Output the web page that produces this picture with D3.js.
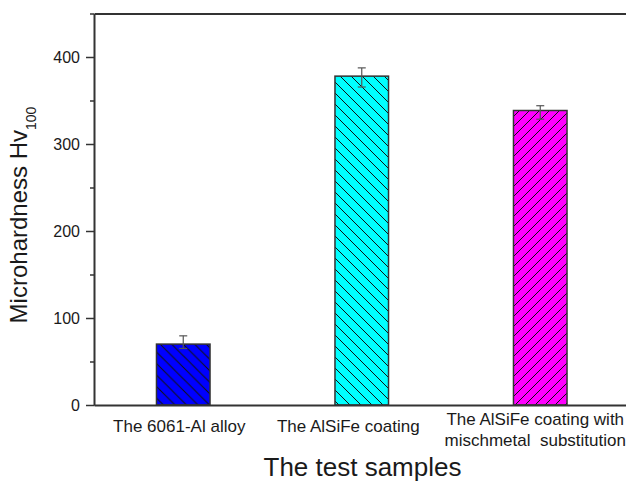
<!DOCTYPE html>
<meta charset="utf-8">
<style>

body {
  margin: 0;
  background-color: white;
  font-family: "Liberation Sans", Arial, sans-serif;
}

.axis path, .axis line {
  stroke: #333;
}

.axis text {
  font: 16px "Liberation Sans", Arial, sans-serif;
  fill: #1a1a1a;
}

</style>
<body>

<div id="chart1"></div>

<script src="https://d3js.org/d3.v7.min.js"></script>
<script>

// data
var samples = ["The 6061-Al alloy", "The AlSiFe coating", "The AlSiFe coating with|mischmetal\u00a0 substitution"];
var hardness = [70, 378, 338.5];
var errUp = [9.5, 9.5, 5.5];
var errDown = [5, 12.5, 10];
var majorTicks = [0, 100, 200, 300, 400];
var minorTicks = [50, 150, 250, 350, 450];

// bar look
var fills = ["#0000ff", "#00ffff", "#ff00ff"];
var hatchDir = ["back", "back", "fwd"];
var hatchGap = [11.5, 11, 10];
// the hand placed labels sit a bit left of the bar centres
var labelNudge = [-4, -13.5, -5];

drawChart();

function drawChart(){
	var width = 626, height = 482;

	var svg = d3.select("#chart1").append("svg")
		.attr("width", width)
		.attr("height", height)
		.style("display", "block");

	var x = d3.scaleBand()
		.domain(samples)
		.range([94, 629.5])
		.paddingInner(0.7)
		.paddingOuter(0.35);

	var y = d3.scaleLinear()
		.domain([0, 450])
		.range([405, 13.5]);

	// hatch patterns
	var defs = svg.append("defs");
	samples.forEach(function(s, i){
		var g = hatchGap[i];
		var p = defs.append("pattern")
			.attr("id", "hatch" + i)
			.attr("patternUnits", "userSpaceOnUse")
			.attr("width", g)
			.attr("height", g);
		p.append("rect").attr("width", g).attr("height", g).attr("fill", fills[i]);
		var d = hatchDir[i] == "back"
			? "M0,0L" + g + "," + g + "M" + (-1) + "," + (g - 1) + "L1," + (g + 1) + "M" + (g - 1) + ",-1L" + (g + 1) + ",1"
			: "M0," + g + "L" + g + ",0M-1,1L1,-1M" + (g - 1) + "," + (g + 1) + "L" + (g + 1) + "," + (g - 1);
		p.append("path").attr("d", d)
			.attr("stroke", "#111")
			.attr("stroke-width", 1);
	});

	// bars
	svg.selectAll(".bar")
		.data(samples)
		.enter().append("rect")
		.attr("class", "bar")
		.attr("x", function(d){ return x(d); })
		.attr("y", function(d, i){ return y(hardness[i]); })
		.attr("width", x.bandwidth())
		.attr("height", function(d, i){ return y(0) - y(hardness[i]); })
		.attr("fill", function(d, i){ return "url(#hatch" + i + ")"; })
		.attr("stroke", "#333")
		.attr("stroke-width", 1.5);

	// error bars
	var eb = svg.selectAll(".err")
		.data(samples)
		.enter().append("g")
		.attr("class", "err")
		.attr("stroke", "#555")
		.attr("stroke-width", 1.2);
	var cx = function(d){ return x(d) + x.bandwidth() / 2; };
	eb.append("line")
		.attr("x1", cx).attr("x2", cx)
		.attr("y1", function(d, i){ return y(hardness[i] + errUp[i]); })
		.attr("y2", function(d, i){ return y(hardness[i] - errDown[i]); });
	eb.append("line")
		.attr("x1", function(d){ return cx(d) - 4; })
		.attr("x2", function(d){ return cx(d) + 4; })
		.attr("y1", function(d, i){ return y(hardness[i] + errUp[i]); })
		.attr("y2", function(d, i){ return y(hardness[i] + errUp[i]); });
	eb.append("line")
		.attr("x1", function(d){ return cx(d) - 4; })
		.attr("x2", function(d){ return cx(d) + 4; })
		.attr("y1", function(d, i){ return y(hardness[i] - errDown[i]); })
		.attr("y2", function(d, i){ return y(hardness[i] - errDown[i]); });

	// axes
	svg.append("g")
		.attr("class", "axis")
		.attr("transform", "translate(94,0)")
		.call(d3.axisLeft(y).tickValues(minorTicks).tickSize(4).tickSizeOuter(0).tickFormat(""))
		.selectAll("line").attr("stroke-width", 1.5);

	var yAxis = svg.append("g")
		.attr("class", "axis")
		.attr("transform", "translate(94,0)")
		.call(d3.axisLeft(y).tickValues(majorTicks).tickSize(8).tickSizeOuter(0).tickPadding(6));
	yAxis.select(".domain").attr("stroke-width", 2);
	yAxis.selectAll(".tick line").attr("stroke-width", 1.5);

	svg.append("g")
		.attr("class", "axis")
		.attr("transform", "translate(0,405)")
		.call(d3.axisBottom(x).tickSize(0).tickSizeOuter(0).tickFormat(""))
		.select(".domain").attr("stroke-width", 2);

	svg.append("g")
		.attr("class", "axis")
		.attr("transform", "translate(0,13.5)")
		.call(d3.axisTop(x).tickSize(0).tickSizeOuter(0).tickFormat(""))
		.select(".domain").attr("stroke-width", 2);

	// category labels
	var labels = svg.selectAll(".cat")
		.data(samples)
		.enter().append("text")
		.attr("class", "cat")
		.attr("text-anchor", "middle")
		.style("font-size", "17px")
		.attr("fill", "#1a1a1a");
	labels.each(function(d, i){
		var lines = d.split("|");
		var t = d3.select(this);
		var base = lines.length > 1 ? 425 : 432;
		lines.forEach(function(l, j){
			t.append("tspan")
				.attr("x", cx(d) + labelNudge[i])
				.attr("y", base + j * 21)
				.text(l);
		});
	});

	// axis titles
	svg.append("text")
		.attr("x", 362.5)
		.attr("y", 476)
		.attr("text-anchor", "middle")
		.style("font-size", "26px")
		.attr("fill", "#1a1a1a")
		.text("The test samples");

	var yt = svg.append("text")
		.attr("transform", "translate(27,215) rotate(-90)")
		.attr("text-anchor", "middle")
		.style("font-size", "24px")
		.attr("fill", "#1a1a1a");
	yt.append("tspan").text("Microhardness Hv");
	yt.append("tspan")
		.attr("dy", 9)
		.style("font-size", "14px")
		.text("100");
}

</script>
